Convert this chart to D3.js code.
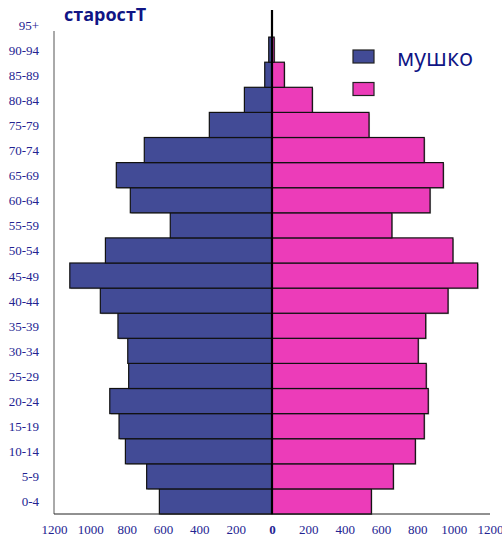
<!DOCTYPE html>
<html>
<head>
<meta charset="utf-8">
<script src="https://cdn.jsdelivr.net/npm/d3@7"></script>
<style>
  body { margin: 0; background: #fff; }
  svg { display: block; }
  .tick-y { font-family: "Liberation Serif", serif; font-size: 13px; fill: #232391; }
  .tick-x text { font-family: "Liberation Serif", serif; font-size: 13px; fill: #232391; }
</style>
</head>
<body>
<svg width="502" height="537"></svg>
<script>
// age groups from youngest to oldest
var ageGroups = ['0-4', '5-9', '10-14', '15-19', '20-24', '25-29', '30-34', '35-39', '40-44', '45-49',
                 '50-54', '55-59', '60-64', '65-69', '70-74', '75-79', '80-84', '85-89', '90-94', '95+'];
var male   = [620, 690, 807, 842, 893, 789, 794, 848, 945, 1113, 917, 560, 780, 857, 703, 345, 152, 40, 18, 0];
var female = [547, 668, 789, 838, 860, 849, 805, 846, 969, 1132, 996, 660, 870, 943, 838, 534, 222, 68, 12, 0];
var xTicks = [-1200, -1000, -800, -600, -400, -200, 0, 200, 400, 600, 800, 1000, 1200];
var titleText = 'старостТ';
var legendNames = ['мушко', ''];

const svg = d3.select('svg');
const blue = '#424b96';
const pink = '#ec3cb9';

const x = d3.scaleLinear().domain([-1200, 1200]).range([54, 490]);
const y = d3.scaleBand().domain(ageGroups.slice().reverse()).range([12, 514]).padding(0);

const rows = ageGroups.map((g, i) => ({group: g, m: male[i], f: female[i]}));

// shadow behind bars
const shadow = svg.append('g').attr('fill', '#777').attr('opacity', 0.6);
rows.filter(d => d.m > 0).forEach(d => {
  shadow.append('rect')
    .attr('x', x(-d.m) + 1).attr('y', y(d.group) + 1)
    .attr('width', x(0) - x(-d.m)).attr('height', y.bandwidth());
});
rows.filter(d => d.f > 0).forEach(d => {
  shadow.append('rect')
    .attr('x', x(0) + 1).attr('y', y(d.group) + 1)
    .attr('width', x(d.f) - x(0)).attr('height', y.bandwidth());
});

svg.append('g').selectAll('rect')
  .data(rows.filter(d => d.m > 0))
  .enter().append('rect')
  .attr('x', d => x(-d.m))
  .attr('y', d => y(d.group))
  .attr('width', d => x(0) - x(-d.m))
  .attr('height', y.bandwidth())
  .attr('fill', blue)
  .attr('stroke', '#111')
  .attr('stroke-width', 1.2);

svg.append('g').selectAll('rect')
  .data(rows.filter(d => d.f > 0))
  .enter().append('rect')
  .attr('x', x(0))
  .attr('y', d => y(d.group))
  .attr('width', d => x(d.f) - x(0))
  .attr('height', y.bandwidth())
  .attr('fill', pink)
  .attr('stroke', '#111')
  .attr('stroke-width', 1.2);

// left axis line and bottom axis line
svg.append('line')
  .attr('x1', x(-1200)).attr('x2', x(-1200))
  .attr('y1', 31).attr('y2', 514)
  .attr('stroke', '#555').attr('stroke-width', 1);
svg.append('line')
  .attr('x1', x(-1200)).attr('x2', x(1200))
  .attr('y1', 514).attr('y2', 514)
  .attr('stroke', '#222').attr('stroke-width', 1);

// centre line
svg.append('line')
  .attr('x1', x(0)).attr('x2', x(0))
  .attr('y1', 10).attr('y2', 514)
  .attr('stroke', '#000').attr('stroke-width', 2.2);

// y labels
svg.append('g').selectAll('text')
  .data(ageGroups)
  .enter().append('text')
  .attr('class', 'tick-y')
  .attr('x', 39)
  .attr('y', d => y(d) + y.bandwidth() / 2 + 5)
  .attr('text-anchor', 'end')
  .text(d => d);

// x axis labels
const xAxis = d3.axisBottom(x).tickValues(xTicks).tickSize(0).tickPadding(0)
  .tickFormat(d => Math.abs(d));
const gx = svg.append('g').attr('class', 'tick-x')
  .attr('transform', 'translate(0,522)')
  .call(xAxis);
gx.select('.domain').remove();
gx.selectAll('text').attr('dy', '0.9em')
  .attr('font-weight', d => d === 0 ? 'bold' : null);

// title
svg.append('text')
  .attr('x', 64).attr('y', 20.5)
  .attr('font-family', '"Open Sans", sans-serif')
  .attr('font-size', 18)
  .attr('font-weight', 'bold')
  .attr('fill', '#101585')
  .text(titleText);

// legend
const legend = svg.append('g');
[blue, pink].forEach((c, i) => {
  legend.append('rect')
    .attr('x', 353).attr('y', 50 + i * 32.5)
    .attr('width', 21).attr('height', 13)
    .attr('fill', c).attr('stroke', '#222').attr('stroke-width', 1.2);
  legend.append('text')
    .attr('x', 397).attr('y', 66 + i * 32.5)
    .attr('font-family', '"Open Sans", sans-serif')
    .attr('font-size', 23.5)
    .attr('fill', '#101585')
    .text(legendNames[i]);
});
</script>
</body>
</html>
